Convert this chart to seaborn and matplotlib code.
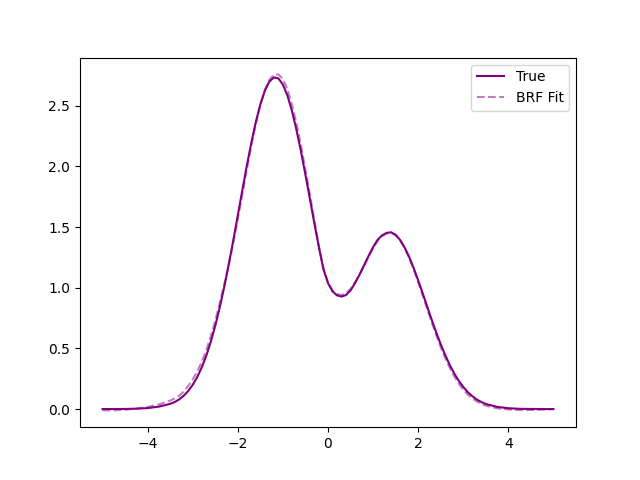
import matplotlib
matplotlib.use("Agg")
import matplotlib.pyplot as plt
import seaborn as sns

# values (finer steps where the curve bends)
x_vals = [-5.0, -4.75, -4.5, -4.25, -4.0, -3.75,
          -3.5, -3.4, -3.3, -3.2, -3.1, -3.0, -2.9, -2.8, -2.7, -2.6,
          -2.5, -2.4, -2.3, -2.2, -2.1, -2.0, -1.9, -1.8, -1.7, -1.6,
          -1.5, -1.4, -1.3, -1.2, -1.1, -1.0, -0.9, -0.8, -0.7, -0.6,
          -0.5, -0.4, -0.3, -0.2, -0.1, 0.0, 0.1, 0.2, 0.3, 0.4,
          0.5, 0.6, 0.7, 0.8, 0.9, 1.0, 1.1, 1.2, 1.3, 1.4,
          1.5, 1.6, 1.7, 1.8, 1.9, 2.0, 2.1, 2.2, 2.3, 2.4,
          2.5, 2.6, 2.7, 2.8, 2.9, 3.0, 3.1, 3.2, 3.3, 3.4, 3.5,
          3.75, 4.0, 4.25, 4.5, 4.75, 5.0]

true_vals = [0.0, 0.0005, 0.001, 0.003, 0.008, 0.02,
             0.043, 0.058, 0.08, 0.11, 0.149, 0.20, 0.264, 0.343, 0.439, 0.554,
             0.687, 0.839, 1.008, 1.194, 1.392, 1.597, 1.803, 2.006, 2.196, 2.367,
             2.512, 2.624, 2.699, 2.733, 2.725, 2.674, 2.584, 2.458, 2.302, 2.125,
             1.93, 1.73, 1.525, 1.33, 1.15, 1.038, 0.97, 0.937, 0.927, 0.94,
             0.978, 1.038, 1.108, 1.185, 1.262, 1.335, 1.395, 1.432, 1.452, 1.457,
             1.436, 1.393, 1.331, 1.254, 1.162, 1.061, 0.954, 0.845, 0.736, 0.632,
             0.534, 0.444, 0.364, 0.293, 0.233, 0.182, 0.140, 0.106, 0.079, 0.058, 0.042,
             0.018, 0.007, 0.002, 0.001, 0.0003, 0.0]

brf_vals = [-0.01, -0.011, -0.006, 0.004, 0.018, 0.038,
            0.07, 0.088, 0.11, 0.145, 0.19, 0.245, 0.31, 0.39, 0.485, 0.60,
            0.73, 0.875, 1.03, 1.19, 1.37, 1.565, 1.77, 1.975, 2.17, 2.35,
            2.505, 2.63, 2.715, 2.755, 2.758, 2.72, 2.635, 2.51, 2.355, 2.175,
            1.975, 1.765, 1.55, 1.34, 1.16, 1.045, 0.978, 0.948, 0.94, 0.955,
            0.99, 1.045, 1.11, 1.18, 1.255, 1.325, 1.385, 1.425, 1.447, 1.452,
            1.432, 1.39, 1.325, 1.245, 1.15, 1.045, 0.935, 0.825, 0.715, 0.61,
            0.51, 0.42, 0.34, 0.27, 0.21, 0.16, 0.12, 0.088, 0.062, 0.042, 0.028,
            0.006, -0.004, -0.008, -0.008, -0.005, 0.0]

fig, ax = plt.subplots(figsize=(6.4, 4.8), dpi=100)
sns.lineplot(x=x_vals, y=true_vals, ax=ax, color='purple', linewidth=1.5, label='True')
sns.lineplot(x=x_vals, y=brf_vals, ax=ax, color='purple', alpha=0.5,
             linestyle='--', linewidth=1.5, label='BRF Fit')
ax.legend(loc='upper right')
fig.savefig('out.png')
plt.close(fig)
